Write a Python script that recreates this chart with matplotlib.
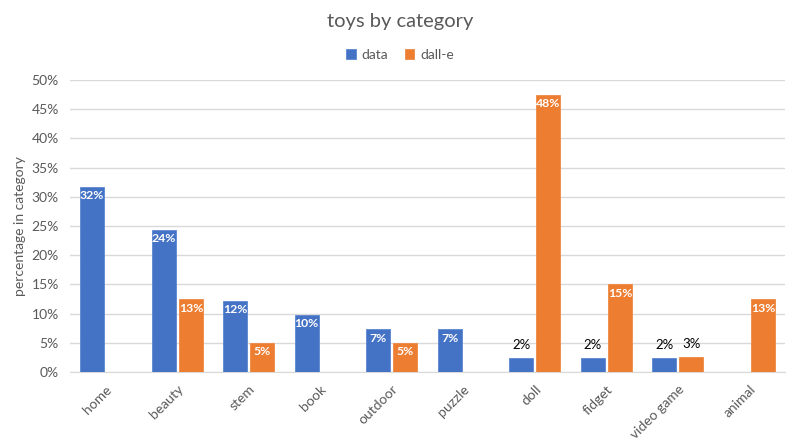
import numpy as np
import matplotlib
matplotlib.use('Agg')
from matplotlib import pyplot as plt
from matplotlib.ticker import PercentFormatter

# Data
categories = ['home', 'beauty', 'stem', 'book', 'outdoor', 'puzzle', 'doll', 'fidget', 'video game', 'animal']
data_pct = [31.7, 24.4, 12.2, 9.8, 7.3, 7.3, 2.4, 2.4, 2.4, 0]
dalle_pct = [0, 12.5, 5.0, 0, 5.0, 0, 47.5, 15.0, 2.5, 12.5]

blue = '#4472C4'
orange = '#ED7D31'
grey = '#595959'

plt.rcParams['font.family'] = ['Lato', 'DejaVu Sans']

fig = plt.figure(figsize=(8, 4.45), dpi=100)
ax = fig.add_axes([70/800, 1 - 372/445, 715/800, 292/445])

x = np.arange(len(categories))
w = 0.333
off = 0.19
b1 = ax.bar(x - off, data_pct, w, color=blue, edgecolor='#5B86D0', linewidth=0.6, label='data', zorder=3)
b2 = ax.bar(x + off, dalle_pct, w, color=orange, edgecolor='#F08A42', linewidth=0.6, label='dall-e', zorder=3)

def label_bars(bars, vals):
    for bar, v in zip(bars, vals):
        if v <= 0:
            continue
        cx = bar.get_x() + bar.get_width() / 2
        txt = '%d%%' % round(v + 1e-9)
        if v >= 4:
            ax.text(cx, v - 0.6, txt, ha='center', va='top', color='white',
                    fontsize=8.8, fontweight='bold', zorder=4)
        else:
            ax.text(cx, v + 1.2, txt, ha='center', va='bottom', color='black',
                    fontsize=9.5, zorder=4)

label_bars(b1, data_pct)
label_bars(b2, dalle_pct)

ax.set_xlim(-0.5, len(categories) - 0.5)
ax.set_ylim(0, 50)
ax.set_yticks(np.arange(0, 51, 5))
ax.yaxis.set_major_formatter(PercentFormatter(decimals=0))
ax.grid(axis='y', color='#D9D9D9', linewidth=1, zorder=0)
for s in ['top', 'right', 'left']:
    ax.spines[s].set_visible(False)
ax.spines['bottom'].set_color('#D9D9D9')
ax.tick_params(axis='both', length=0, colors=grey, labelsize=10)
ax.tick_params(axis='y', pad=8)
ax.set_xticks(x)
ax.set_xticklabels(categories, rotation=45, ha='right', rotation_mode='anchor')
ax.tick_params(axis='x', pad=8)
ax.set_ylabel('percentage in category', color=grey, fontsize=10)

fig.text(0.5, 1 - 22/445, 'toys by category', ha='center', va='center', fontsize=14.5, color=grey)
fig.legend(handles=[b1, b2], loc='center', bbox_to_anchor=(0.5, 1 - 55/445), ncol=2,
           frameon=False, fontsize=10, handlelength=0.7, handleheight=0.7,
           handletextpad=0.4, columnspacing=1.2, labelcolor=grey)

fig.savefig('out.png', dpi=100)
